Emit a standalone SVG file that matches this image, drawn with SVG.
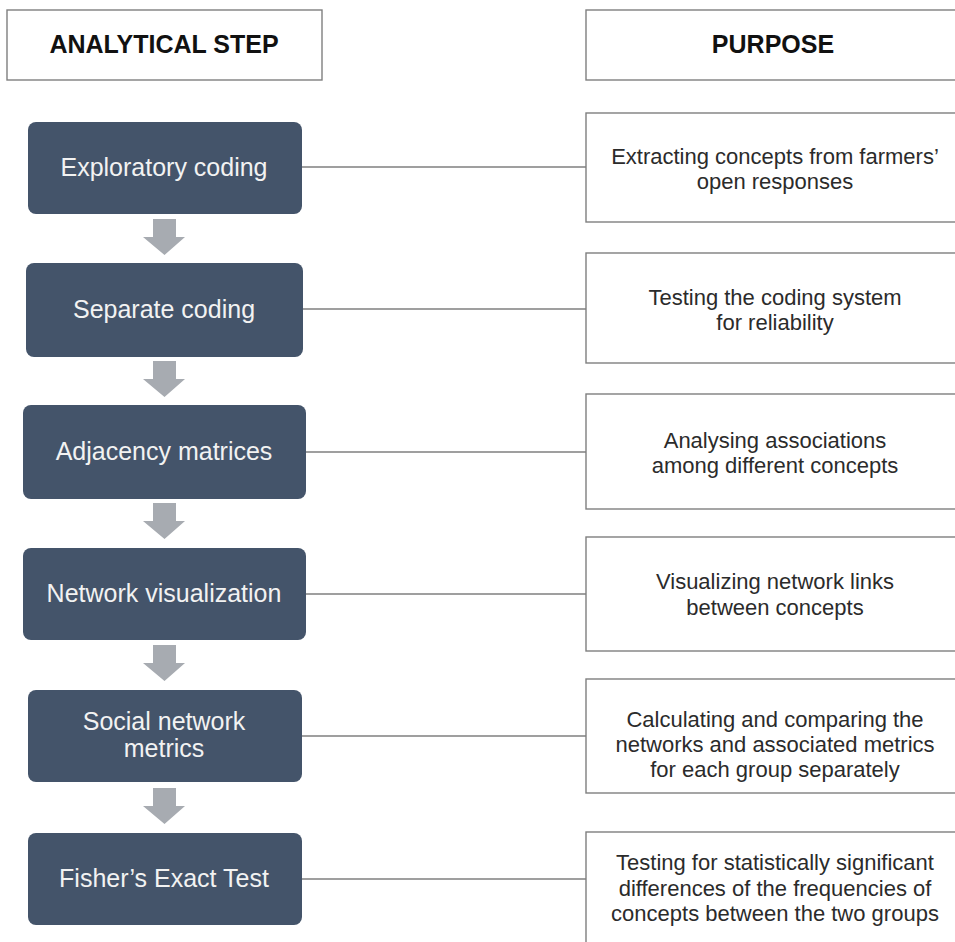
<svg xmlns="http://www.w3.org/2000/svg" width="955" height="942" viewBox="0 0 955 942">
<style>
.hdr{fill:#ffffff;stroke:#7f7f7f;stroke-width:1.4}
.hdrt{font-family:"Liberation Sans",Arial,sans-serif;font-weight:bold;font-size:25px;fill:#111111;text-anchor:middle}
.node{fill:#44546a}
.nt{font-family:"Liberation Sans",Arial,sans-serif;font-size:25px;fill:#f2f2f2;text-anchor:middle}
.box{fill:#ffffff;stroke:#7f7f7f;stroke-width:1.4}
.bt{font-family:"Liberation Sans",Arial,sans-serif;font-size:22px;fill:#2b2b2b;text-anchor:middle}
.conn{stroke:#7f7f7f;stroke-width:1.4;fill:none}
.arr{fill:#a7abb1}
</style>
<rect width="955" height="942" fill="#ffffff"/>
<g id="header-step"><rect class="hdr" x="7" y="10" width="315" height="70"/><text class="hdrt" x="164" y="53">ANALYTICAL STEP</text></g>
<g id="header-purpose"><rect class="hdr" x="586" y="10" width="380" height="70"/><text class="hdrt" x="773" y="53">PURPOSE</text></g>
<g id="connectors">
<line class="conn" x1="302" y1="167" x2="586" y2="167"/>
<line class="conn" x1="303" y1="309" x2="586" y2="309"/>
<line class="conn" x1="306" y1="452" x2="586" y2="452"/>
<line class="conn" x1="306" y1="594" x2="586" y2="594"/>
<line class="conn" x1="302" y1="736" x2="586" y2="736"/>
<line class="conn" x1="302" y1="879" x2="586" y2="879"/>
<polygon class="arr" points="153,219 176,219 176,237 185,237 164.5,255 143,237 153,237"/>
<polygon class="arr" points="153,361 176,361 176,379 185,379 164.5,397 143,379 153,379"/>
<polygon class="arr" points="153,503 176,503 176,521 185,521 164.5,539 143,521 153,521"/>
<polygon class="arr" points="153,645 176,645 176,663 185,663 164.5,681 143,663 153,663"/>
<polygon class="arr" points="153,788 176,788 176,806 185,806 164.5,824 143,806 153,806"/>
</g>
<g id="node1"><rect class="node" x="28" y="122" width="274" height="92" rx="8"/><text class="nt" x="164" y="176">Exploratory coding</text></g>
<g id="node2"><rect class="node" x="26" y="263" width="277" height="94" rx="8"/><text class="nt" x="164" y="318">Separate coding</text></g>
<g id="node3"><rect class="node" x="23" y="405" width="283" height="94" rx="8"/><text class="nt" x="164" y="460">Adjacency matrices</text></g>
<g id="node4"><rect class="node" x="23" y="548" width="283" height="92" rx="8"/><text class="nt" x="164" y="602">Network visualization</text></g>
<g id="node5"><rect class="node" x="28" y="690" width="274" height="92" rx="8"/><text class="nt" x="164" y="730">Social network</text><text class="nt" x="164" y="757">metrics</text></g>
<g id="node6"><rect class="node" x="28" y="833" width="274" height="92" rx="8"/><text class="nt" x="164" y="887">Fisher’s Exact Test</text></g>
<g id="purpose1"><rect class="box" x="586" y="113" width="380" height="109"/><text class="bt" x="775" y="164">Extracting concepts from farmers’</text><text class="bt" x="775" y="189">open responses</text></g>
<g id="purpose2"><rect class="box" x="586" y="253" width="380" height="110"/><text class="bt" x="775" y="305">Testing the coding system</text><text class="bt" x="775" y="330">for reliability</text></g>
<g id="purpose3"><rect class="box" x="586" y="394" width="380" height="115"/><text class="bt" x="775" y="448">Analysing associations</text><text class="bt" x="775" y="473">among different concepts</text></g>
<g id="purpose4"><rect class="box" x="586" y="537" width="380" height="114"/><text class="bt" x="775" y="589">Visualizing network links</text><text class="bt" x="775" y="615">between concepts</text></g>
<g id="purpose5"><rect class="box" x="586" y="679" width="380" height="114"/><text class="bt" x="775" y="727">Calculating and comparing the</text><text class="bt" x="775" y="752">networks and associated metrics</text><text class="bt" x="775" y="777">for each group separately</text></g>
<g id="purpose6"><rect class="box" x="586" y="832" width="380" height="120"/><text class="bt" x="775" y="870">Testing for statistically significant</text><text class="bt" x="775" y="896">differences of the frequencies of</text><text class="bt" x="775" y="921">concepts between the two groups</text></g>
</svg>
